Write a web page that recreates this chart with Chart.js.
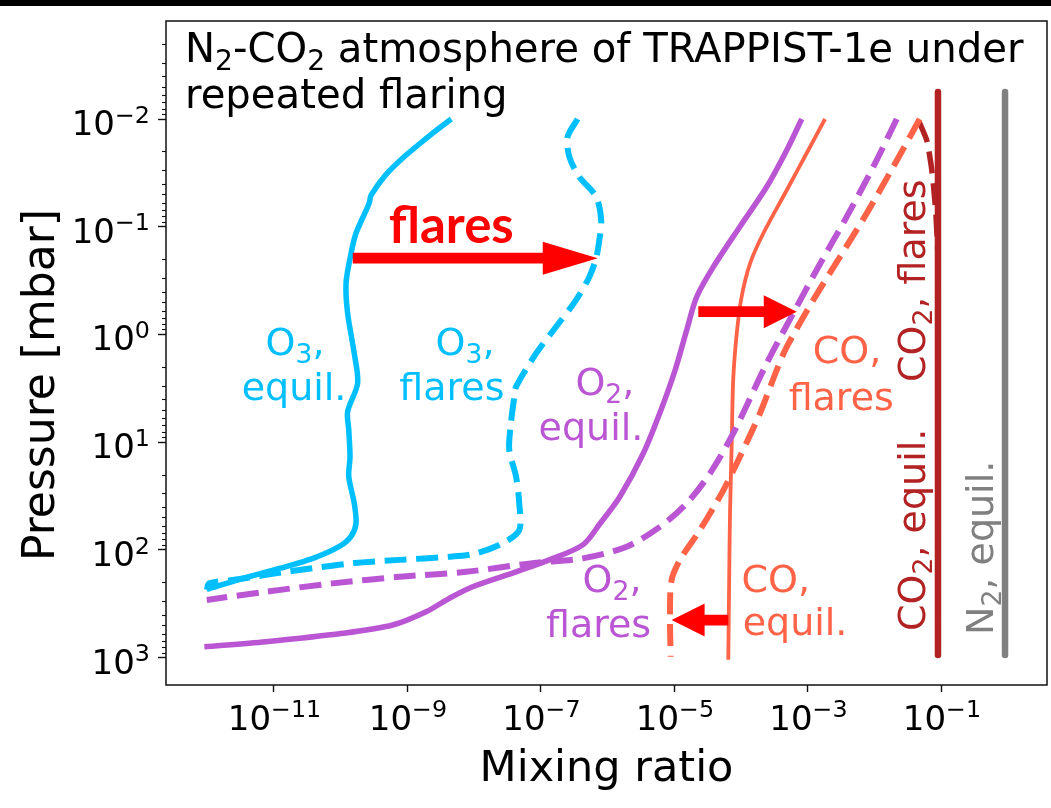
<!DOCTYPE html>
<html>
<head>
<meta charset="utf-8">
<title>N2-CO2 atmosphere of TRAPPIST-1e under repeated flaring</title>
<script src="https://cdn.jsdelivr.net/npm/chart.js@4.4.1/dist/chart.umd.min.js"></script>
<style>
  html, body { margin: 0; padding: 0; background: #fff; overflow: hidden; }
  canvas { display: block; }
</style>
</head>
<body>
<canvas id="chart" width="1051" height="808"></canvas>
<script>
// ---------------------------------------------------------------------------
// Mixing-ratio profiles, each point is [mixing ratio, pressure in mbar]
// ---------------------------------------------------------------------------
const O3_EQUIL = [
  [4.6e-9, 0.01], [2.4e-9, 0.0136], [9.7e-10, 0.0216], [4.8e-10, 0.033],
  [2.9e-10, 0.051], [2.7e-10, 0.061], [1.72e-10, 0.115], [1.45e-10, 0.177],
  [1.22e-10, 0.336], [1.29e-10, 0.64], [1.62e-10, 1.5], [1.82e-10, 2.84],
  [1.29e-10, 5.2], [1.34e-10, 7.7], [1.40e-10, 13.7], [1.34e-10, 20.9],
  [1.62e-10, 37], [1.72e-10, 57], [1.45e-10, 75], [9.7e-11, 93],
  [3.9e-11, 120], [1.22e-11, 149], [3.5e-12, 184], [1.0e-12, 233]
];
const O3_FLARES = [
  [3.6e-7, 0.01], [2.55e-7, 0.0146], [2.7e-7, 0.0224], [3.8e-7, 0.0344],
  [6.8e-7, 0.0526], [8.1e-7, 0.087], [7.6e-7, 0.133], [6.8e-7, 0.196],
  [5.4e-7, 0.291], [3.4e-7, 0.48], [1.71e-7, 0.85], [8.6e-8, 1.5],
  [4.3e-8, 3.06], [4.05e-8, 3.79], [3.6e-8, 6.7], [3.4e-8, 11.8],
  [4.3e-8, 20.9], [4.8e-8, 37], [4.8e-8, 65.5], [2.7e-8, 87],
  [1.08e-8, 108], [4.3e-9, 116], [7.7e-10, 124], [1.54e-10, 133],
  [2.44e-11, 154], [7.7e-12, 171], [2.45e-12, 191], [1.09e-12, 205], [1.0e-12, 236]
];
const O2_EQUIL = [
  [8.2e-4, 0.01], [4.9e-4, 0.0194], [2.45e-4, 0.0426], [9.7e-5, 0.1],
  [3.9e-5, 0.235], [2.19e-5, 0.447], [1.55e-5, 0.91], [1.04e-5, 2.14],
  [6.4e-6, 5.0], [3.47e-6, 12.7], [1.55e-6, 32],
  [7.8e-7, 57], [4.3e-7, 90], [1.35e-7, 124], [4.3e-8, 160],
  [9.6e-9, 220], [4.3e-9, 282], [1.93e-9, 376], [6.1e-10, 499],
  [1.09e-10, 596], [7.7e-12, 713], [9.2e-13, 794]
];
const O2_FLARES = [
  [2.17e-2, 0.01], [9.7e-3, 0.0277], [3.87e-3, 0.0807], [1.37e-3, 0.252],
  [6.1e-4, 0.637], [2.45e-4, 1.85], [7.7e-5, 8.3], [3.46e-5, 19.5],
  [1.55e-5, 37], [6.2e-6, 61], [1.95e-6, 93.5], [4.3e-7, 120],
  [7.6e-8, 133], [7.7e-9, 160], [7.7e-10, 178], [7.7e-11, 205],
  [7.7e-12, 245], [1.0e-12, 292]
];
const CO_EQUIL = [
  [1.83e-3, 0.01], [9.7e-4, 0.0208], [4.9e-4, 0.0456], [2.18e-4, 0.115],
  [1.38e-4, 0.219], [1.03e-4, 0.447], [8.7e-5, 0.98], [7.7e-5, 2.65],
  [7.3e-5, 11], [6.9e-5, 46], [6.7e-5, 191], [6.5e-5, 1050]
];
const CO_FLARES = [
  [4.8e-2, 0.01], [1.93e-2, 0.0277], [7.7e-3, 0.0752], [3.07e-3, 0.19],
  [1.22e-3, 0.48], [4.9e-4, 1.3], [3.46e-4, 2.14], [1.94e-4, 5.4],
  [9.7e-5, 13.7], [5.5e-5, 27.9], [2.45e-5, 65.5], [1.23e-5, 124],
  [9.2e-6, 191], [8.7e-6, 389], [8.9e-6, 984]
];
const CO2_EQUIL = [[0.09, 5.6e-3], [0.09, 950]];
const CO2_FLARES = [
  [0.047, 0.0106], [0.061, 0.0157], [0.071, 0.0267], [0.077, 0.041],
  [0.084, 0.078], [0.09, 0.204], [0.09, 950]
];
const N2_EQUIL = [[0.91, 5.6e-3], [0.91, 950]];

// Shifts caused by flaring: [mixing ratio, pressure] at tail and at tip
const SHIFT_ARROWS = [
  { from: [1.54e-10, 0.196], to: [7.2e-7, 0.196] },
  { from: [2.31e-5, 0.615], to: [6.9e-4, 0.615] },
  { from: [6.5e-5, 449], to: [9.2e-6, 449] }
];

// Axis ticks (^{...} marks an exponent)
const X_TICKS = [1e-11, 1e-9, 1e-7, 1e-5, 1e-3, 1e-1];
const X_TICK_LABELS = ['10^{−11}', '10^{−9}', '10^{−7}', '10^{−5}', '10^{−3}', '10^{−1}'];
const Y_TICKS = [1e-2, 1e-1, 1, 10, 100, 1000];
const Y_TICK_LABELS = ['10^{−2}', '10^{−1}', '10^{0}', '10^{1}', '10^{2}', '10^{3}'];
const Y_MINOR_MANTISSAS = [2, 3, 4, 5, 6, 7, 8, 9];

// Axis limits
const X_MIN = 2.45e-13, X_MAX = 3.87;
const Y_MIN = 1.23e-3, Y_MAX = 1800;

// ---------------------------------------------------------------------------
// Styles
// ---------------------------------------------------------------------------
const CYAN = '#00bfff', PURPLE = '#ba55d3', TOMATO = '#ff6347',
      BRICK = '#b22222', GRAY = '#808080', RED = '#ff0000', INK = '#111';
const FONT = 'DejaVu Sans';
const DASH = [22, 9.6];
const TICK_FONT = 34;

const SERIES = [
  { data: O3_EQUIL,   color: CYAN,   width: 5.5, smooth: 0.3 },
  { data: O3_FLARES,  color: CYAN,   width: 6,   smooth: 0.3, dash: DASH },
  { data: O2_EQUIL,   color: PURPLE, width: 5.5, smooth: 0.3 },
  { data: O2_FLARES,  color: PURPLE, width: 6,   smooth: 0.3, dash: DASH },
  { data: CO_EQUIL,   color: TOMATO, width: 3.8, smooth: 0.3 },
  { data: CO_FLARES,  color: TOMATO, width: 6,   smooth: 0.3, dash: DASH },
  { data: CO2_FLARES, color: BRICK,  width: 5.5, smooth: 0.2, dash: DASH },
  { data: CO2_EQUIL,  color: BRICK,  width: 6.5 },
  { data: N2_EQUIL,   color: GRAY,   width: 6.5 }
];

// Curve labels: anchor is [mixing ratio, pressure] of the line centre / baseline
const CURVE_LABELS = [
  { text: 'O_{3},',  at: [2.1e-11, 1.55], color: CYAN },
  { text: 'equil.',  at: [2.03e-11, 4.06], color: CYAN },
  { text: 'O_{3},',  at: [7.4e-9, 1.55], color: CYAN },
  { text: 'flares',  at: [4.7e-9, 4.06], color: CYAN },
  { text: 'O_{2},',  at: [9.2e-7, 3.65], color: PURPLE },
  { text: 'equil.',  at: [5.7e-7, 9.55], color: PURPLE },
  { text: 'O_{2},',  at: [1.18e-6, 247], color: PURPLE },
  { text: 'flares',  at: [7.4e-7, 646], color: PURPLE },
  { text: 'CO,',     at: [3.9e-3, 1.85], color: TOMATO },
  { text: 'flares',  at: [3.2e-3, 5.03], color: TOMATO },
  { text: 'CO,',     at: [3.35e-4, 247], color: TOMATO },
  { text: 'equil.',  at: [6.5e-4, 618], color: TOMATO },
  { text: 'CO_{2}, flares', at: [0.0566, 2.77], color: BRICK, vertical: true },
  { text: 'CO_{2}, equil.', at: [0.0566, 567], color: BRICK, vertical: true },
  { text: 'N_{2}, equil.',  at: [0.60, 618], color: GRAY, vertical: true }
];
const LABEL_SIZE = 38;
const FLARES_TAG = { text: 'flares', at: [4.6e-9, 0.1416] };

// ---------------------------------------------------------------------------
// Text with _{...} subscripts and ^{...} superscripts
// ---------------------------------------------------------------------------
function parseRich(text) {
  const parts = [];
  const re = /([_^])\{([^}]*)\}/g;
  let last = 0, m;
  while ((m = re.exec(text))) {
    if (m.index > last) parts.push({ t: text.slice(last, m.index), shift: 0 });
    parts.push({ t: m[2], shift: m[1] === '_' ? 1 : -1 });
    last = re.lastIndex;
  }
  if (last < text.length) parts.push({ t: text.slice(last), shift: 0 });
  return parts;
}

function drawRich(ctx, text, x, y, o) {
  const parts = parseRich(text);
  const fontFor = p => `${o.weight || 'normal'} ${p.shift ? o.size * 0.7 : o.size}px "${o.family || FONT}"`;
  let total = 0;
  parts.forEach(p => { ctx.font = fontFor(p); p.w = ctx.measureText(p.t).width; total += p.w; });
  let cx = o.align === 'center' ? x - total / 2 : (o.align === 'right' ? x - total : x);
  ctx.textAlign = 'left';
  ctx.textBaseline = 'alphabetic';
  ctx.fillStyle = o.color;
  parts.forEach(p => {
    ctx.font = fontFor(p);
    const dy = p.shift > 0 ? o.size * 0.2 : (p.shift < 0 ? -o.size * 0.36 : 0);
    ctx.fillText(p.t, cx, y + dy);
    cx += p.w;
  });
}

// ---------------------------------------------------------------------------
// Plugins
// ---------------------------------------------------------------------------
const backdrop = {
  id: 'backdrop',
  beforeDraw(chart) {
    const { ctx, width, height } = chart;
    ctx.save();
    ctx.fillStyle = '#fff';
    ctx.fillRect(0, 0, width, height);
    ctx.fillStyle = '#000';
    ctx.fillRect(0, 0, width, 6);
    ctx.restore();
  }
};

const axisDecor = {
  id: 'axisDecor',
  afterDraw(chart) {
    const { ctx, chartArea } = chart;
    const sx = chart.scales.x, sy = chart.scales.y;
    ctx.save();

    // minor ticks on the pressure axis
    ctx.strokeStyle = INK;
    ctx.lineWidth = 1.1;
    for (let e = -3; e <= 3; e++) {
      Y_MINOR_MANTISSAS.forEach(m => {
        const v = m * Math.pow(10, e);
        if (v <= Y_MIN || v >= Y_MAX) return;
        const py = Math.round(sy.getPixelForValue(v)) + 0.5;
        ctx.beginPath();
        ctx.moveTo(chartArea.left - 4, py);
        ctx.lineTo(chartArea.left, py);
        ctx.stroke();
      });
    }

    // tick labels
    X_TICKS.forEach((v, i) => {
      drawRich(ctx, X_TICK_LABELS[i], sx.getPixelForValue(v) + 1, chartArea.bottom + 44.5,
               { size: TICK_FONT, color: '#000', align: 'center' });
    });
    Y_TICKS.forEach((v, i) => {
      drawRich(ctx, Y_TICK_LABELS[i], chartArea.left - 16, sy.getPixelForValue(v) + 16,
               { size: TICK_FONT, color: '#000', align: 'right' });
    });

    // pressure axis title
    ctx.save();
    ctx.translate(54, 385);
    ctx.rotate(-Math.PI / 2);
    drawRich(ctx, 'Pressure [mbar]', 0, 0, { size: 44, color: '#000', align: 'center' });
    ctx.restore();

    // frame
    ctx.strokeStyle = INK;
    ctx.lineWidth = 1.5;
    ctx.strokeRect(chartArea.left, chartArea.top, chartArea.right - chartArea.left, chartArea.bottom - chartArea.top);
    ctx.restore();
  }
};

const annotations = {
  id: 'annotations',
  afterDatasetsDraw(chart) {
    const { ctx, chartArea } = chart;
    const sx = chart.scales.x, sy = chart.scales.y;
    const px = v => sx.getPixelForValue(v), py = v => sy.getPixelForValue(v);
    ctx.save();

    // flare arrows
    ctx.fillStyle = RED;
    SHIFT_ARROWS.forEach((a, i) => {
      const x0 = px(a.from[0]), y0 = py(a.from[1]);
      const x1 = px(a.to[0]), y1 = py(a.to[1]);
      const len = Math.hypot(x1 - x0, y1 - y0);
      const headLen = i === 0 ? 55 : 33, headHalf = 16.5, shaftHalf = 5.4;
      ctx.save();
      ctx.translate(x0, y0);
      ctx.rotate(Math.atan2(y1 - y0, x1 - x0));
      ctx.beginPath();
      ctx.moveTo(0, -shaftHalf);
      ctx.lineTo(len - headLen, -shaftHalf);
      ctx.lineTo(len - headLen, -headHalf);
      ctx.lineTo(len, 0);
      ctx.lineTo(len - headLen, headHalf);
      ctx.lineTo(len - headLen, shaftHalf);
      ctx.lineTo(0, shaftHalf);
      ctx.closePath();
      ctx.fill();
      ctx.restore();
    });

    // big "flares" tag
    drawRich(ctx, FLARES_TAG.text, px(FLARES_TAG.at[0]), py(FLARES_TAG.at[1]),
             { size: 51, weight: 'bold', family: 'Lato', color: RED, align: 'center' });

    // curve labels
    CURVE_LABELS.forEach(l => {
      const x = px(l.at[0]), y = py(l.at[1]);
      if (l.vertical) {
        ctx.save();
        ctx.translate(x, y);
        ctx.rotate(-Math.PI / 2);
        drawRich(ctx, l.text, 0, 0, { size: LABEL_SIZE, color: l.color, align: 'left' });
        ctx.restore();
      } else {
        drawRich(ctx, l.text, x, y, { size: LABEL_SIZE, color: l.color, align: 'center' });
      }
    });

    // panel title
    drawRich(ctx, 'N_{2}-CO_{2} atmosphere of TRAPPIST-1e under', chartArea.left + 19, chartArea.top + 41,
             { size: 40.2, color: '#000', align: 'left' });
    drawRich(ctx, 'repeated flaring', chartArea.left + 19, chartArea.top + 86.5,
             { size: 40.2, color: '#000', align: 'left' });
    ctx.restore();
  }
};

// ---------------------------------------------------------------------------
// Chart
// ---------------------------------------------------------------------------
const datasets = SERIES.map(s => ({
  data: s.data.map(([x, y]) => ({ x, y })),
  borderColor: s.color,
  borderWidth: s.width,
  borderDash: s.dash || [],
  borderCapStyle: 'butt',
  borderJoinStyle: 'round',
  pointRadius: 0,
  pointHoverRadius: 0,
  showLine: true,
  fill: false,
  tension: s.smooth || 0
}));

new Chart(document.getElementById('chart'), {
  type: 'scatter',
  data: { datasets },
  options: {
    responsive: false,
    animation: false,
    devicePixelRatio: 1,
    events: [],
    layout: { padding: { top: 21, right: 4, left: 0, bottom: 0 } },
    plugins: { legend: { display: false }, tooltip: { enabled: false } },
    scales: {
      x: {
        type: 'logarithmic',
        position: 'bottom',
        bounds: 'data',
        min: X_MIN,
        max: X_MAX,
        afterBuildTicks: s => { s.ticks = X_TICKS.map(v => ({ value: v })); },
        afterFit: s => { s.height = 123; s.paddingLeft = 0; s.paddingRight = 0; },
        ticks: { display: false, autoSkip: false, maxRotation: 0, minRotation: 0 },
        grid: { display: true, drawOnChartArea: false, drawTicks: true, tickLength: 7, tickWidth: 1.4, tickColor: INK },
        border: { display: false },
        title: { display: true, text: 'Mixing ratio', color: '#000',
                 font: { family: FONT, size: 43 }, padding: { top: 0, bottom: 12 } }
      },
      y: {
        type: 'logarithmic',
        position: 'left',
        reverse: true,
        bounds: 'data',
        min: Y_MIN,
        max: Y_MAX,
        afterBuildTicks: s => { s.ticks = Y_TICKS.map(v => ({ value: v })); },
        afterFit: s => { s.width = 166; s.paddingTop = 0; s.paddingBottom = 0; },
        ticks: { display: false, autoSkip: false },
        grid: { display: true, drawOnChartArea: false, drawTicks: true, tickLength: 8, tickWidth: 1.4, tickColor: INK },
        border: { display: false },
        title: { display: false }
      }
    }
  },
  plugins: [backdrop, axisDecor, annotations]
});
</script>
</body>
</html>
